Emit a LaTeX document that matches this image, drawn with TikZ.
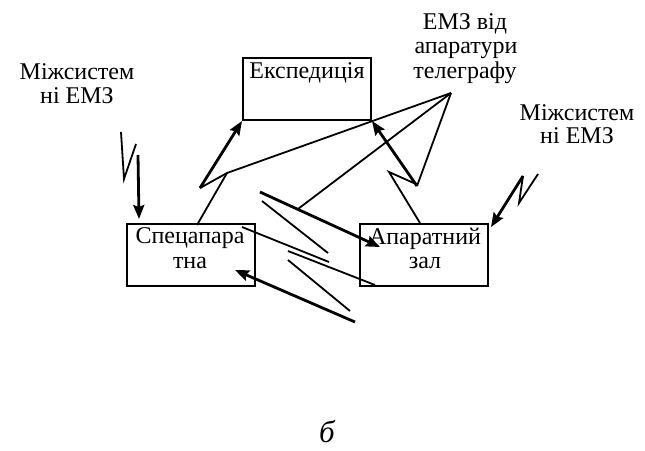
\documentclass[tikz,border=0pt]{standalone}
\usepackage{fontspec}
\setmainfont{Liberation Serif}
\usetikzlibrary{arrows.meta}
\begin{document}
\begin{tikzpicture}[x=1pt,y=-1pt,
  box/.style={draw, line width=2pt, inner sep=0pt, minimum width=128pt, minimum height=62pt},
  txt/.style={font=\fontsize{24}{27}\selectfont, inner sep=0pt, anchor=base},
  thinl/.style={line width=1.8pt, line join=miter},
  thickl/.style={line width=2.8pt},
  arr/.style={thickl, -{Stealth[length=14pt,width=11pt,inset=2pt]}}
]
\useasboundingbox (0,0) rectangle (645,450);

% boxes
\node[box] (exp) at (307,89) {};
\node[box] (spec) at (190.5,255) {};
\node[box] (apz) at (424,255) {};

% texts
\node[txt] (expT) at (307,78) {Експедиція};
\node[txt] (specT1) at (190,243) {Спецапара};
\node[txt] (specT2) at (190,268) {тна};
\node[txt] (apzT1) at (425,244) {Апаратний};
\node[txt] (apzT2) at (425,268) {зал};
\node[txt] (ml1) at (77,79) {Міжсистем};
\node[txt] (ml2) at (77,103) {ні ЕМЗ};
\node[txt] (mr1) at (577,120) {Міжсистем};
\node[txt] (mr2) at (577,143) {ні ЕМЗ};
\node[txt] (t1) at (465,29) {ЕМЗ від};
\node[txt] (t2) at (466,53) {апаратури};
\node[txt] (t3) at (465,78) {телеграфу};
\node[txt, font=\fontsize{31}{34}\selectfont\itshape] (bl) at (327,442) {б};

% coordinates
\coordinate (tp) at (451,93);
\coordinate (z1) at (200,188);
\coordinate (z2) at (227,173);
\coordinate (sTop) at (197,225);
\coordinate (r1) at (417,186);
\coordinate (r2) at (389,172);
\coordinate (r3) at (416,184);
\coordinate (aTop) at (420,223);
\coordinate (m1) at (298,209);
\coordinate (a1) at (260,192);
\coordinate (a1t) at (380,247);
\coordinate (b1) at (262,201);
\coordinate (b2) at (328,253);
\coordinate (c1) at (242,227);
\coordinate (c2) at (329,262);
\coordinate (d1) at (288,251);
\coordinate (d2) at (375,285);
\coordinate (e1) at (288,260);
\coordinate (e2) at (350,311);
\coordinate (f1) at (355,322);
\coordinate (f2) at (235,270);
\coordinate (L1) at (121,132);
\coordinate (L2) at (124,179);
\coordinate (L3) at (136,144);
\coordinate (L4) at (138,155);
\coordinate (L5) at (139,219);
\coordinate (R1) at (538,174);
\coordinate (R2) at (519,203);
\coordinate (R3) at (523,176);
\coordinate (R4) at (491,227);

% telegraph EMZ to Експедиція (left)
\draw[thinl] (tp) -- (z2) -- (z1);
\draw[arr] (z1) -- (exp.south west);
\draw[thinl] (sTop) -- (z2);

% telegraph to right side
\draw[thinl] (tp) -- (r1);
\draw[arr] (r1) -- (exp.south east);
\draw[thinl] (r3) -- (r2) -- (aTop);

% telegraph to middle
\draw[thinl] (tp) -- (m1);
\draw[arr] (a1) -- (a1t);
\draw[thinl] (b1) -- (b2);
\draw[thinl] (c1) -- (c2);
\draw[thinl] (d1) -- (d2);
\draw[thinl] (e1) -- (e2);
\draw[arr] (f1) -- (f2);

% intersystem EMZ left
\draw[thinl] (L1) -- (L2) -- (L3);
\draw[arr] (L4) -- (L5);

% intersystem EMZ right
\draw[thinl] (R1) -- (R2) -- (R3);
\draw[arr] (R3) -- (R4);
\end{tikzpicture}
\end{document}
